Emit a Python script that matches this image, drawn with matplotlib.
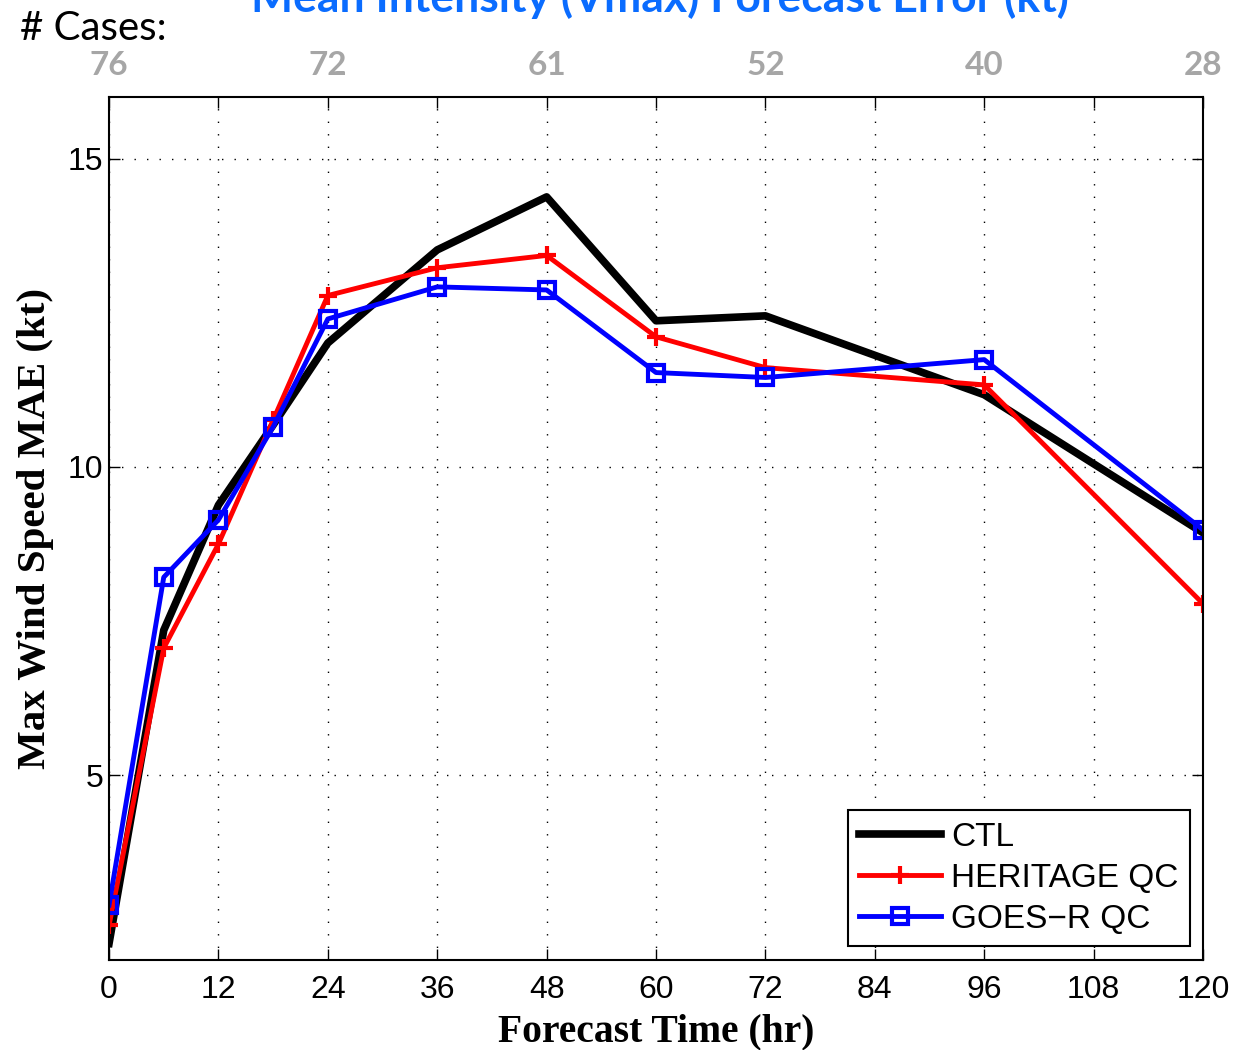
import matplotlib
matplotlib.use("Agg")
import matplotlib.pyplot as plt

# forecast lead times (hr)
lead_hours = [0, 6, 12, 18, 24, 36, 48, 60, 72, 96, 120]

# max wind speed MAE (kt) per experiment
ctl_mae = [2.27, 7.35, 9.38, 10.68, 12.01, 13.52, 14.38, 12.37, 12.45, 11.17, 8.93]
heritage_mae = [2.56, 7.06, 8.75, 10.76, 12.78, 13.23, 13.43, 12.11, 11.61, 11.33, 7.78]
goesr_mae = [2.89, 8.21, 9.14, 10.65, 12.40, 12.92, 12.87, 11.53, 11.45, 11.74, 8.98]

# number of verifying cases shown above the axes
case_hours = [0, 24, 48, 72, 96, 120]
case_counts = [76, 72, 61, 52, 40, 28]

x_ticks = list(range(0, 121, 12))
y_ticks = [5, 10, 15]

fig = plt.figure(figsize=(12.35, 10.5), dpi=100)
ax = fig.add_axes([0.0883, 0.0857, 0.8858, 0.8219])

ax.plot(lead_hours, ctl_mae, color="black", linewidth=5.5, label="CTL")
ax.plot(lead_hours, heritage_mae, color="red", linewidth=3.5, marker="+",
        markersize=13, markeredgewidth=3, label="HERITAGE QC")
ax.plot(lead_hours, goesr_mae, color="blue", linewidth=3.5, marker="s",
        markersize=12, markerfacecolor="none", markeredgewidth=3,
        label="GOES\u2212R QC")

ax.set_xlim(0, 120)
ax.set_ylim(2, 16)
ax.set_xticks(x_ticks)
ax.set_yticks(y_ticks)
ax.grid(True, color="black", linestyle=(0, (1, 8)), linewidth=1.0)
ax.tick_params(direction="in", length=8, width=1, top=True, right=True,
               labelsize=23)
ax.tick_params(axis="x", pad=11)
ax.tick_params(axis="y", pad=4)
for lbl in ax.get_xticklabels() + ax.get_yticklabels():
    lbl.set_fontfamily("Liberation Sans")
for sp in ax.spines.values():
    sp.set_linewidth(1.5)

ax.set_xlabel("Forecast Time (hr)", fontsize=28.5, fontweight="bold",
              family="Liberation Serif", labelpad=6)
ax.set_ylabel("Max Wind Speed MAE (kt)", fontsize=29.5, fontweight="bold",
              family="Liberation Serif", labelpad=10)

leg = ax.legend(loc="lower right", bbox_to_anchor=(0.988, 0.016),
                borderaxespad=0, fancybox=False, framealpha=1,
                edgecolor="black", handlelength=2.45, handletextpad=0.3,
                labelspacing=0.3, borderpad=0.35,
                prop={"family": "Liberation Sans", "size": 24})
leg.get_frame().set_linewidth(1.5)

# case counts along the top
for hr, n in zip(case_hours, case_counts):
    ax.text(hr, 1.0 + 32 / 863, str(n), transform=ax.get_xaxis_transform(),
            ha="center", va="center", fontsize=24, fontweight="bold",
            color="#a6a6a6", family="Lato")

fig.text(20 / 1235, 1 - 28 / 1050, "# Cases:", ha="left", va="center",
         fontsize=29, family="Lato")
fig.text(660 / 1235, 1 - 12 / 1050, "Mean Intensity (Vmax) Forecast Error (kt)",
         ha="center", va="baseline", fontsize=32, fontweight="bold",
         color="#0a6cff", family="Lato")

fig.savefig("out.png", dpi=100)
